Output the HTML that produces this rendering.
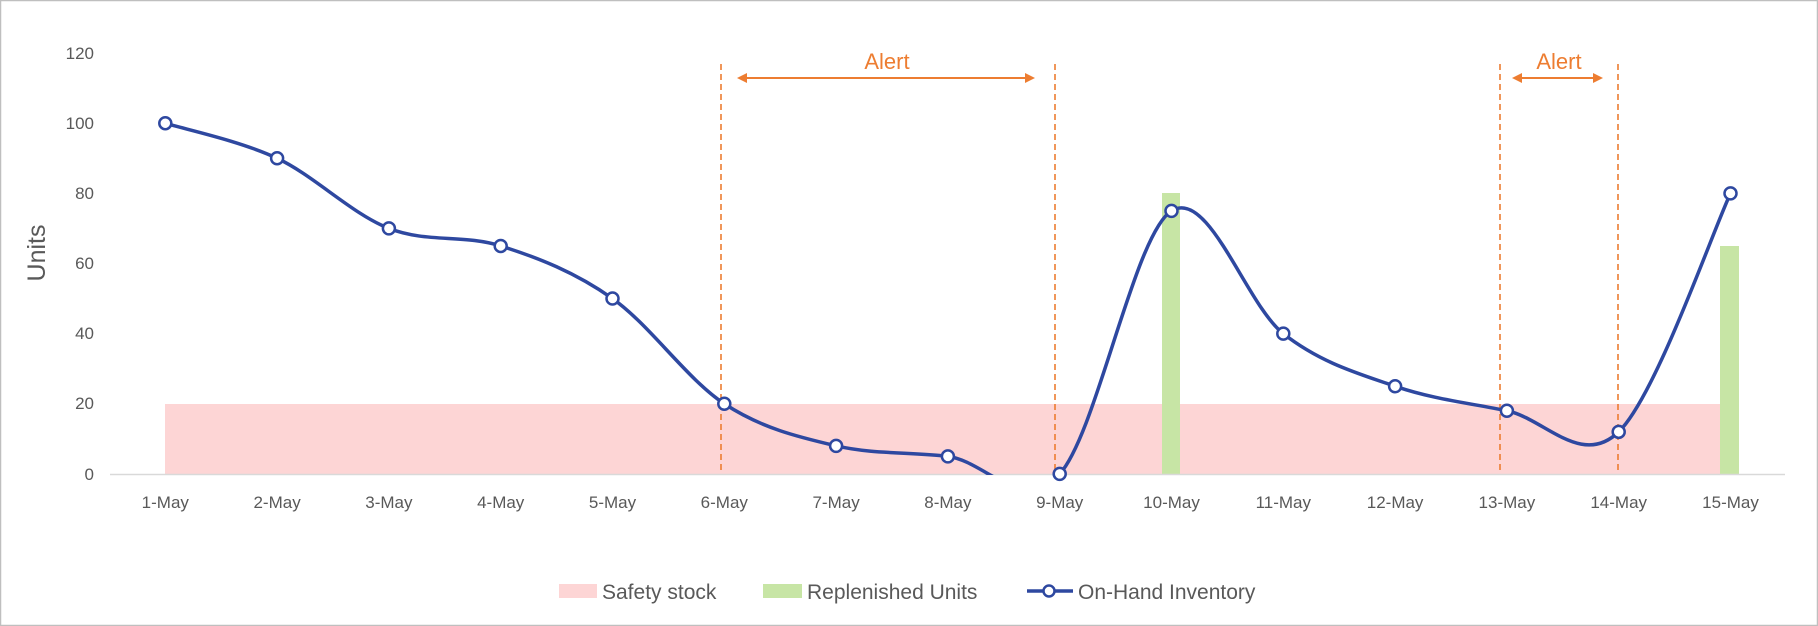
<!DOCTYPE html>
<html><head><meta charset="utf-8"><style>
html,body{margin:0;padding:0;background:#fff}
svg{display:block;font-family:"Liberation Sans",sans-serif}
</style></head><body>
<svg width="1818" height="626" viewBox="0 0 1818 626" xmlns="http://www.w3.org/2000/svg">
<rect x="0.5" y="0.5" width="1817" height="625" fill="#fff" stroke="#bfbfbf" stroke-width="1.5"/>
<defs><clipPath id="c"><rect x="0" y="0" width="1818" height="475"/></clipPath></defs>
<g fill="#595959" font-size="17" text-anchor="end">
<text x="94" y="59">120</text><text x="94" y="129">100</text><text x="94" y="199">80</text>
<text x="94" y="269">60</text><text x="94" y="339">40</text><text x="94" y="409">20</text><text x="94" y="480">0</text>
</g>
<text transform="translate(45,253) rotate(-90)" fill="#595959" font-size="25" text-anchor="middle">Units</text>
<rect x="165" y="404" width="1555" height="70" fill="#fdd5d5"/>
<rect x="1162" y="193" width="18" height="281" fill="#c7e5a5"/>
<rect x="1720" y="246" width="19" height="228" fill="#c7e5a5"/>
<line x1="110" y1="474.5" x2="1785" y2="474.5" stroke="#d9d9d9" stroke-width="1.5"/>
<g fill="#595959" font-size="17" text-anchor="middle" id="xl"></g>
<g stroke="#ED7D31" stroke-width="1.6" stroke-dasharray="6,4">
<line x1="721" y1="64" x2="721" y2="474"/><line x1="1055" y1="64" x2="1055" y2="474"/>
<line x1="1500" y1="64" x2="1500" y2="474"/><line x1="1618" y1="64" x2="1618" y2="474"/>
</g>
<g stroke="#ED7D31" stroke-width="2" fill="#ED7D31">
<line x1="744" y1="78" x2="1028" y2="78"/><path d="M737 78 L747 73 L747 83Z" stroke="none"/><path d="M1035 78 L1025 73 L1025 83Z" stroke="none"/>
<line x1="1519" y1="78" x2="1596" y2="78"/><path d="M1512 78 L1522 73 L1522 83Z" stroke="none"/><path d="M1603 78 L1593 73 L1593 83Z" stroke="none"/>
</g>
<g fill="#ED7D31" font-size="22" text-anchor="middle"><text x="887" y="69">Alert</text><text x="1559" y="69">Alert</text></g>
<path id="ln" clip-path="url(#c)" fill="none" stroke="#2E48A0" stroke-width="3.5"/>
<g id="mk" fill="#fff" stroke="#2E48A0" stroke-width="2.5"></g>
<rect x="559" y="584" width="38" height="14" fill="#fdd5d5"/>
<text x="602" y="599" fill="#595959" font-size="21">Safety stock</text>
<rect x="763" y="584" width="39" height="14" fill="#c7e5a5"/>
<text x="807" y="599" fill="#595959" font-size="21">Replenished Units</text>
<line x1="1027" y1="591" x2="1073" y2="591" stroke="#2E48A0" stroke-width="3.5"/>
<circle cx="1049" cy="591" r="5.5" fill="#fff" stroke="#2E48A0" stroke-width="2.5"/>
<text x="1078" y="599" fill="#595959" font-size="21">On-Hand Inventory</text>
</svg>
<script>
var v=[100,90,70,65,50,20,8,5,0,75,40,25,18,12,80];
var X=function(i){return 165.3+i*111.8},Y=function(a){return 473.9-a*3.507};
var p=v.map(function(a,i){return[X(i),Y(a)]});
var d="M"+p[0][0]+" "+p[0][1];
for(var i=0;i<p.length-1;i++){var p0=p[i-1]||p[i],p1=p[i],p2=p[i+1],p3=p[i+2]||p2;
d+=" C"+(p1[0]+(p2[0]-p0[0])/6)+" "+(p1[1]+(p2[1]-p0[1])/6)+" "+(p2[0]-(p3[0]-p1[0])/6)+" "+(p2[1]-(p3[1]-p1[1])/6)+" "+p2[0]+" "+p2[1];}
document.getElementById("ln").setAttribute("d",d);
var ns="http://www.w3.org/2000/svg",mk=document.getElementById("mk"),xl=document.getElementById("xl");
p.forEach(function(q,i){var c=document.createElementNS(ns,"circle");c.setAttribute("cx",q[0]);c.setAttribute("cy",q[1]);c.setAttribute("r",6);mk.appendChild(c);
var t=document.createElementNS(ns,"text");t.setAttribute("x",q[0]);t.setAttribute("y",508);t.textContent=(i+1)+"-May";xl.appendChild(t);});
</script>
</body></html>
